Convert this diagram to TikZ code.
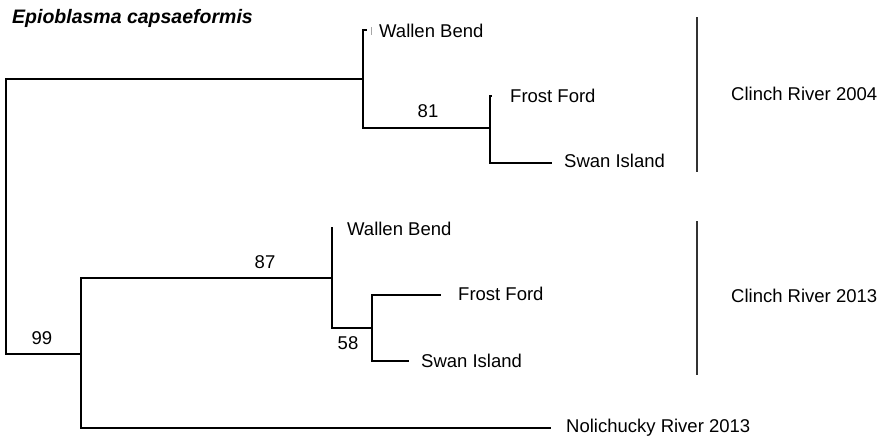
\documentclass[tikz,border=0pt]{standalone}
\usepackage{fontspec}
\setmainfont{Liberation Sans}
\begin{document}
\begin{tikzpicture}[x=1pt, y=-1pt,
  branch/.style={line width=1.8pt, line cap=rect},
  bar/.style={line width=2pt, draw=black!80},
  taxon/.style={anchor=west, inner sep=0pt, font=\fontsize{18.5}{20}\selectfont},
  support/.style={inner sep=0pt, font=\fontsize{18.5}{20}\selectfont},
  group/.style={anchor=west, inner sep=0pt, font=\fontsize{18.5}{20}\selectfont}]
\useasboundingbox (0,0) rectangle (880,440);

% title
\node[anchor=west, inner sep=0pt, font=\fontsize{19.5}{22}\selectfont\bfseries\itshape] (title) at (12,18) {Epioblasma capsaeformis};

% internal nodes
\coordinate (rt) at (6,216);
\coordinate (A) at (363,79);
\coordinate (C) at (490,128);
\coordinate (B) at (81,354);
\coordinate (D) at (332,278);
\coordinate (E) at (372,328);

% tips
\coordinate (wb1) at (366,30);
\coordinate (ff1) at (491,96);
\coordinate (si1) at (551,163);
\coordinate (wb2) at (332,228);
\coordinate (ff2) at (440,295);
\coordinate (si2) at (408,361);
\coordinate (nol) at (550,428);

% branches
\draw[branch] (A) -| (rt) |- (B);
\draw[branch] (wb1) -| (A) |- (C);
\draw[branch] (ff1) -| (C) |- (si1);
\draw[branch] (D) -| (B) |- (nol);
\draw[branch] (wb2) -- (D) |- (E);
\draw[branch] (ff2) -| (E) |- (si2);
\draw[line width=0.8pt, draw=black!35] (371,27) -- (371,35);

% tip labels
\node[taxon] (lwb1) at (379,31) {Wallen Bend};
\node[taxon] (lff1) at (510,96) {Frost Ford};
\node[taxon] (lsi1) at (564,161) {Swan Island};
\node[taxon] (lwb2) at (347,229) {Wallen Bend};
\node[taxon] (lff2) at (458,294) {Frost Ford};
\node[taxon] (lsi2) at (421,361) {Swan Island};
\node[taxon] (lnol) at (566,428) {Nolichucky River 2013};

% support values
\node[support] (s81) at (428,111) {81};
\node[support] (s87) at (265,262) {87};
\node[support] (s58) at (348,343) {58};
\node[support] (s99) at (42,338) {99};

% population bars
\coordinate (b1t) at (697,17);
\coordinate (b1b) at (697,172);
\coordinate (b2t) at (697,221);
\coordinate (b2b) at (697,375);
\draw[bar] (b1t) -- (b1b);
\draw[bar] (b2t) -- (b2b);
\node[group] (g1) at (731,94) {Clinch River 2004};
\node[group] (g2) at (731,296) {Clinch River 2013};
\end{tikzpicture}
\end{document}
